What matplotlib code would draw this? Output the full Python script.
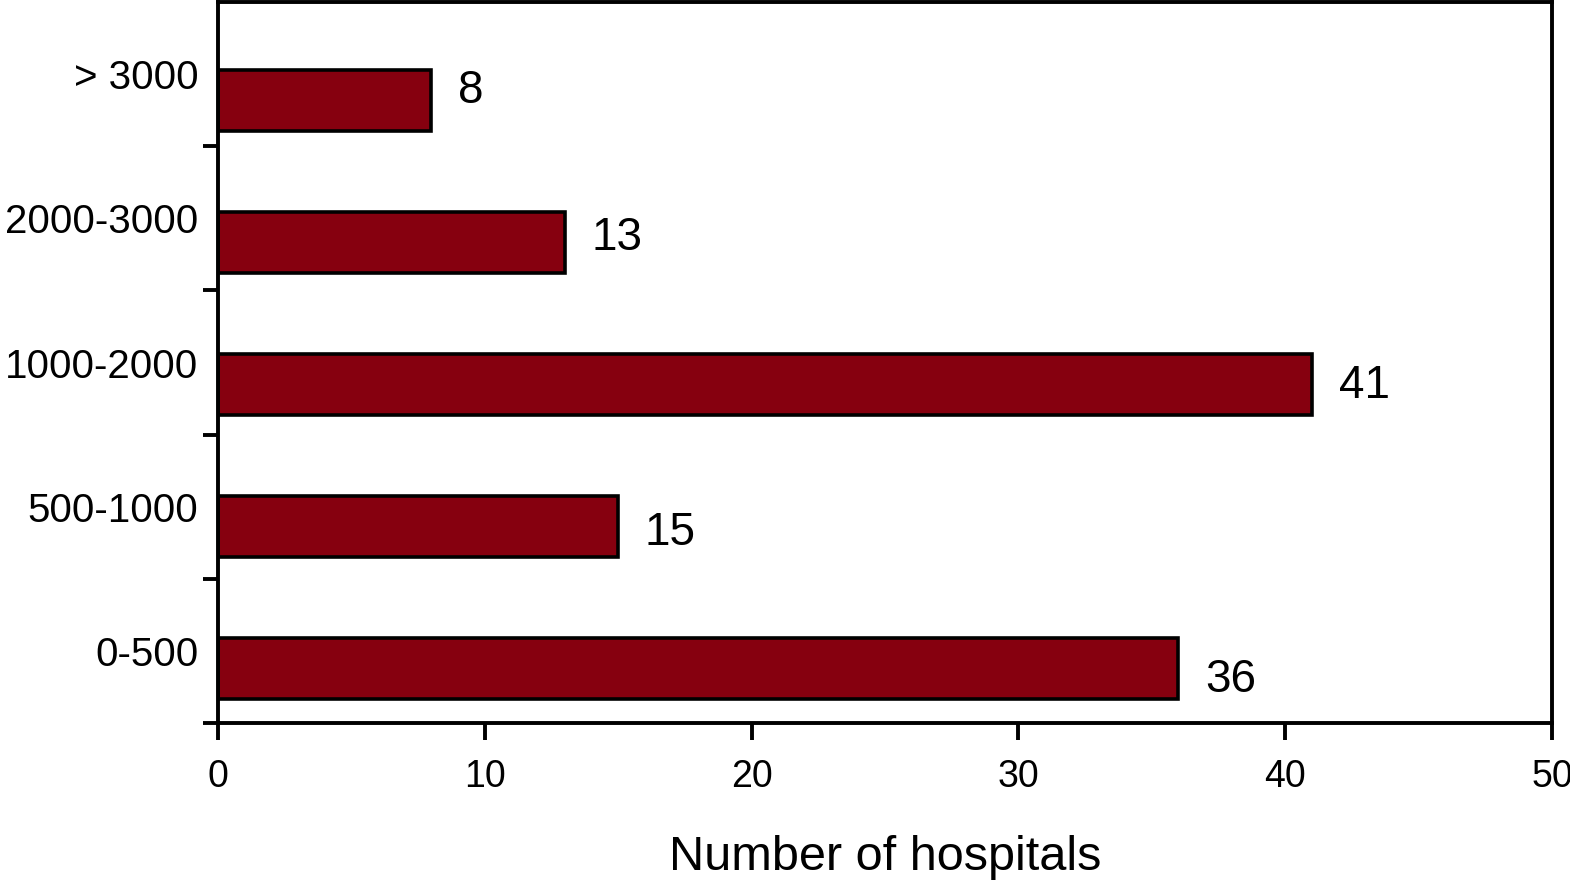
import matplotlib.pyplot as plt
import numpy as np

plt.rcParams['font.family'] = ['Liberation Sans', 'DejaVu Sans']

# data (bottom to top)
categories = ['0-500', '500-1000', '1000-2000', '2000-3000', '> 3000']
hospitals = [36, 15, 41, 13, 8]

bar_color = '#86000F'

fig = plt.figure(figsize=(15.7, 8.82), dpi=100)
ax = fig.add_axes([218 / 1570, 1 - 723 / 882, (1552 - 218) / 1570, (723 - 2) / 882])

pos = np.arange(len(categories))
bar_y = 0.378 + 0.985 * pos
ax.barh(bar_y, hospitals, height=0.42, color=bar_color,
        edgecolor='black', linewidth=2.6)

label_y = 0.30 + 1.02 * pos
for y, v in zip(label_y, hospitals):
    ax.text(v + 1.0, y, str(v), fontsize=33, va='center', ha='left')

ax.set_xlim(0, 50)
ax.set_ylim(0, len(categories))
ax.set_xticks([0, 10, 20, 30, 40, 50])

# ticks at category boundaries, labels at slot centres
ax.set_yticks(pos)
ax.set_yticklabels([])
ax.set_yticks(pos + 0.5, minor=True)
ax.set_yticklabels(categories, minor=True)

ax.tick_params(axis='x', which='major', direction='out', length=12, width=2.8,
               labelsize=27, pad=14)
ax.tick_params(axis='y', which='major', direction='out', length=11, width=2.8)
ax.tick_params(axis='y', which='minor', length=0, labelsize=29, pad=14)

for s in ax.spines.values():
    s.set_linewidth(2.8)

ax.set_xlabel('Number of hospitals', fontsize=35, labelpad=29)

plt.savefig('out.png', dpi=100)
